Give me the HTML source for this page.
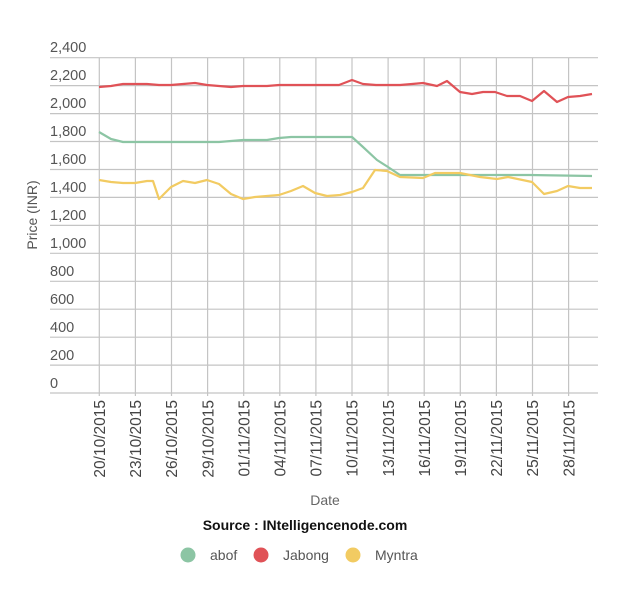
<!DOCTYPE html>
<html><head><meta charset="utf-8"><style>body{margin:0;background:#fff}</style></head><body>
<svg width="640" height="603" xmlns="http://www.w3.org/2000/svg" font-family="Liberation Sans, sans-serif">
<rect width="640" height="603" fill="#fff"/>
<g stroke="#c4c4c4" stroke-width="1.2">
<line x1="50" x2="598" y1="57.7" y2="57.7"/><line x1="50" x2="598" y1="85.6" y2="85.6"/><line x1="50" x2="598" y1="113.6" y2="113.6"/><line x1="50" x2="598" y1="141.5" y2="141.5"/><line x1="50" x2="598" y1="169.5" y2="169.5"/><line x1="50" x2="598" y1="197.4" y2="197.4"/><line x1="50" x2="598" y1="225.4" y2="225.4"/><line x1="50" x2="598" y1="253.3" y2="253.3"/><line x1="50" x2="598" y1="281.3" y2="281.3"/><line x1="50" x2="598" y1="309.2" y2="309.2"/><line x1="50" x2="598" y1="337.2" y2="337.2"/><line x1="50" x2="598" y1="365.1" y2="365.1"/><line x1="50" x2="598" y1="393" y2="393"/>
<line x1="99.3" x2="99.3" y1="57.7" y2="396"/><line x1="135.4" x2="135.4" y1="57.7" y2="396"/><line x1="171.5" x2="171.5" y1="57.7" y2="396"/><line x1="207.6" x2="207.6" y1="57.7" y2="396"/><line x1="243.7" x2="243.7" y1="57.7" y2="396"/><line x1="279.8" x2="279.8" y1="57.7" y2="396"/><line x1="315.9" x2="315.9" y1="57.7" y2="396"/><line x1="352" x2="352" y1="57.7" y2="396"/><line x1="388.1" x2="388.1" y1="57.7" y2="396"/><line x1="424.2" x2="424.2" y1="57.7" y2="396"/><line x1="460.3" x2="460.3" y1="57.7" y2="396"/><line x1="496.4" x2="496.4" y1="57.7" y2="396"/><line x1="532.5" x2="532.5" y1="57.7" y2="396"/><line x1="568.6" x2="568.6" y1="57.7" y2="396"/>
</g>
<g font-size="14.5" fill="#555">
<text x="50" y="52">2,400</text><text x="50" y="80">2,200</text><text x="50" y="108">2,000</text><text x="50" y="136">1,800</text><text x="50" y="164">1,600</text><text x="50" y="192">1,400</text><text x="50" y="220">1,200</text><text x="50" y="248">1,000</text><text x="50" y="276">800</text><text x="50" y="304">600</text><text x="50" y="332">400</text><text x="50" y="360">200</text><text x="50" y="388">0</text>
</g>
<g font-size="15.5" fill="#444" text-anchor="end">
<text transform="translate(105,400) rotate(-90)">20/10/2015</text><text transform="translate(141.1,400) rotate(-90)">23/10/2015</text><text transform="translate(177.2,400) rotate(-90)">26/10/2015</text><text transform="translate(213.3,400) rotate(-90)">29/10/2015</text><text transform="translate(249.4,400) rotate(-90)">01/11/2015</text><text transform="translate(285.5,400) rotate(-90)">04/11/2015</text><text transform="translate(321.6,400) rotate(-90)">07/11/2015</text><text transform="translate(357.7,400) rotate(-90)">10/11/2015</text><text transform="translate(393.8,400) rotate(-90)">13/11/2015</text><text transform="translate(429.9,400) rotate(-90)">16/11/2015</text><text transform="translate(466,400) rotate(-90)">19/11/2015</text><text transform="translate(502.1,400) rotate(-90)">22/11/2015</text><text transform="translate(538.2,400) rotate(-90)">25/11/2015</text><text transform="translate(574.3,400) rotate(-90)">28/11/2015</text>
</g>
<text transform="translate(37,215) rotate(-90)" font-size="14" fill="#555" text-anchor="middle">Price (INR)</text>
<text x="325" y="505" font-size="14" fill="#666" text-anchor="middle">Date</text>
<text x="305" y="530" font-size="14" font-weight="bold" fill="#111" text-anchor="middle">Source : INtelligencenode.com</text>
<g font-size="14" fill="#555">
<circle cx="188" cy="555" r="7.5" fill="#8cc5a4"/><text x="210" y="560">abof</text>
<circle cx="261" cy="555" r="7.5" fill="#e05257"/><text x="283" y="560">Jabong</text>
<circle cx="353" cy="555" r="7.5" fill="#f2cb62"/><text x="375" y="560">Myntra</text>
</g>
<g fill="none" stroke-width="2.2" stroke-linejoin="round">
<polyline stroke="#e05257" points="99,87 111,86 123,84 147,84 159,85 171,85 183,84 195,83 207,85 219,86 231,87 243,86 255,86 267,86 279,85 291,85 303,85 315,85 327,85 339,85 352,80 363,84 376,85 388,85 400,85 412,84 423,83 437,86 447,81 460,92 472,94 483,92 495,92 507,96 520,96 532,101 544,91 557,102 568,97 580,96 592,94"/>
<polyline stroke="#8cc5a4" points="99,132 111,139 123,142 219,142 243,140 267,140 279,138 291,137 352,137 363,147 377,160 388,167 400,175 530,175 592,176"/>
<polyline stroke="#f2cb62" points="99,180 111,182 123,183 135,183 147,181 153,181 159,199 171,187 183,181 195,183 207,180 219,184 231,194 243,199 255,197 267,196 279,195 291,191 303,186 315,193 327,196 340,195 352,192 363,188 375,170 387,171 400,177 423,178 435,173 460,173 480,177 497,179 508,177 532,182 544,194 557,191 568,186 580,188 592,188"/>
</g>
</svg>
</body></html>
